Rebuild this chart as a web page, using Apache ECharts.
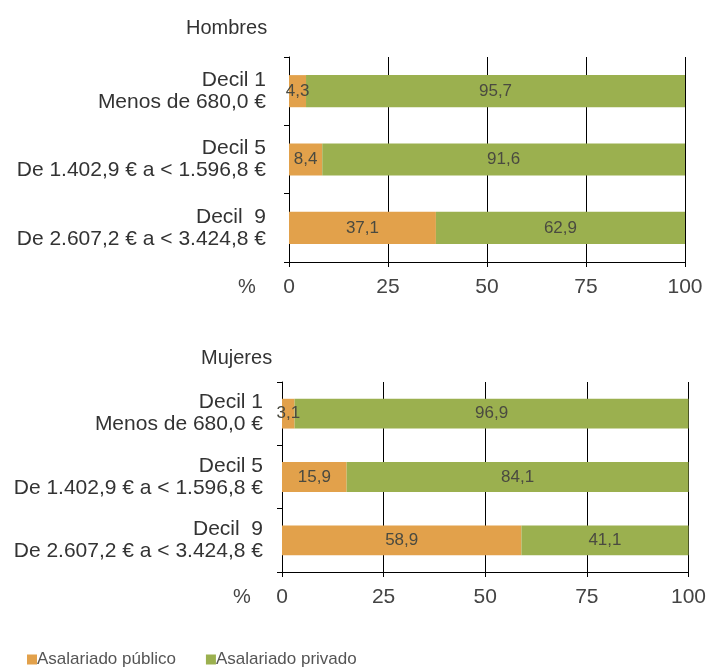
<!DOCTYPE html>
<html><head><meta charset="utf-8">
<script src="https://cdn.jsdelivr.net/npm/echarts@6/dist/echarts.min.js"></script>
<style>html,body{margin:0;padding:0;background:#fff}#c{width:709px;height:668px}</style>
</head><body><div id="c"></div>
<script>
const categories = ['Decil 1\nMenos de 680,0 €', 'Decil 5\nDe 1.402,9 € a < 1.596,8 €', 'Decil  9\nDe 2.607,2 € a < 3.424,8 €'];
const seriesNames = ['Asalariado público', 'Asalariado privado'];
const hombresPublico = [4.3, 8.4, 37.1];
const hombresPrivado = [95.7, 91.6, 62.9];
const mujeresPublico = [3.1, 15.9, 58.9];
const mujeresPrivado = [96.9, 84.1, 41.1];
const xTicks = [0, 25, 50, 75, 100];
const panelTitles = ['Hombres', 'Mujeres'];

const colors = ['#E2A14B', '#9BB04F'];
const font = 'Liberation Sans, Arial, sans-serif';
const txt = '#333';

const grids = [
  {left: 289, right: 24, top: 57, height: 205},
  {left: 282, right: 20, top: 382, height: 190}
];

function xAxis(i) {
  return {
    type: 'value', gridIndex: i, min: 0, max: 100, interval: 25,
    axisLine: {show: true, lineStyle: {color: '#000', width: 1}},
    axisTick: {show: true, length: 5, lineStyle: {color: '#000'}},
    splitLine: {show: true, lineStyle: {color: '#000', width: 1}},
    axisLabel: {color: '#444', fontSize: 21, fontFamily: font, margin: 15,
      formatter: v => xTicks.includes(v) ? String(v) : ''}
  };
}
function yAxis(i, margin) {
  return {
    type: 'category', gridIndex: i, data: categories, inverse: true,
    axisLine: {show: true, lineStyle: {color: '#000', width: 1}},
    axisTick: {show: true, length: 5, inside: false, lineStyle: {color: '#000'}},
    splitLine: {show: false},
    axisLabel: {color: txt, fontSize: 21, fontFamily: font, margin: margin, lineHeight: 22, align: 'right'}
  };
}
const fmt = p => p.value.toFixed(1).replace('.', ',');
function bar(name, data, i, c) {
  return {
    type: 'bar', name: name, data: data, stack: 's' + i, xAxisIndex: i, yAxisIndex: i,
    barWidth: '47%', itemStyle: {color: c},
    label: {show: true, position: 'inside', formatter: fmt, color: '#4a4a40', fontSize: 17, fontFamily: font},
    emphasis: {disabled: true}
  };
}

const chart = echarts.init(document.getElementById('c'), null, {renderer: 'canvas'});
chart.setOption({
  animation: false,
  grid: grids,
  xAxis: [xAxis(0), xAxis(1)],
  yAxis: [yAxis(0, 23), yAxis(1, 19)],
  title: [
    {text: panelTitles[0], left: 181, top: 13, textStyle: {fontSize: 20, fontWeight: 'normal', color: txt, fontFamily: font}},
    {text: panelTitles[1], left: 196, top: 343, textStyle: {fontSize: 20, fontWeight: 'normal', color: txt, fontFamily: font}}
  ],
  legend: {
    data: seriesNames, left: 22, top: 646, icon: 'rect', itemWidth: 10, itemHeight: 10, itemGap: 30,
    textStyle: {fontSize: 17, color: '#555', fontFamily: font, padding: [0, 0, 0, -5]}
  },
  graphic: [
    {type: 'text', left: 238, top: 277, style: {text: '%', fontSize: 20, fill: '#444', fontFamily: font}},
    {type: 'text', left: 233, top: 587, style: {text: '%', fontSize: 20, fill: '#444', fontFamily: font}}
  ],
  series: [
    bar(seriesNames[0], hombresPublico, 0, colors[0]),
    bar(seriesNames[1], hombresPrivado, 0, colors[1]),
    bar(seriesNames[0], mujeresPublico, 1, colors[0]),
    bar(seriesNames[1], mujeresPrivado, 1, colors[1])
  ]
});
</script></body></html>
